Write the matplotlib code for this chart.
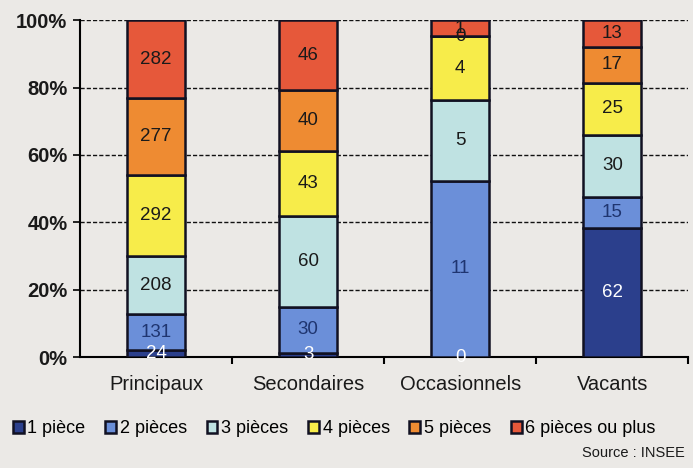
import numpy as np
import matplotlib.pyplot as plt

plt.rcParams['font.family'] = ['Liberation Sans', 'DejaVu Sans']

categories = ['Principaux', 'Secondaires', 'Occasionnels', 'Vacants']
series = ['1 pièce', '2 pièces', '3 pièces', '4 pièces', '5 pièces', '6 pièces ou plus']
p1 = [24, 3, 0, 62]
p2 = [131, 30, 11, 15]
p3 = [208, 60, 5, 30]
p4 = [292, 43, 4, 25]
p5 = [277, 40, 0, 17]
p6 = [282, 46, 1, 13]

colors = ['#2b3f8c', '#6b8fd9', '#bfe2e2', '#f7ec4a', '#ee8b32', '#e6583a']
label_colors = ['white', '#1f3570', '#1a1a1a', '#1a1a1a', '#1a1a1a', '#1a1a1a']

data = np.array([p1, p2, p3, p4, p5, p6], dtype=float)
totals = data.sum(axis=0)
pct = data / totals * 100

bg = '#ebe9e6'
fig = plt.figure(figsize=(6.93, 4.68), dpi=100, facecolor=bg)
ax = fig.add_axes([0.1154, 0.237, 0.878, 0.72], facecolor=bg)

x = np.arange(len(categories))
bottom = np.zeros(len(categories))
for i in range(len(series)):
    ax.bar(x, pct[i], 0.38, bottom=bottom, color=colors[i], edgecolor='#111122',
           linewidth=1.8, label=series[i], zorder=3)
    for j in range(len(categories)):
        ax.text(x[j], bottom[j] + pct[i][j] / 2, '%d' % data[i][j], ha='center', va='center',
                fontsize=13.5, color=label_colors[i], zorder=4)
    bottom += pct[i]

ax.set_xlim(-0.5, 3.5)
ax.set_ylim(0, 100)
ax.set_yticks([0, 20, 40, 60, 80, 100])
ax.set_yticklabels(['0%', '20%', '40%', '60%', '80%', '100%'], fontsize=14.5, fontweight='bold', color='#1a1a1a')
ax.set_xticks(x)
ax.set_xticklabels(categories, fontsize=14.5, color='#1a1a1a')
ax.set_xticks([0.5, 1.5, 2.5, 3.5], minor=True)
ax.tick_params(axis='x', which='major', length=0, pad=13)
ax.tick_params(axis='x', which='minor', length=5, width=1.5, direction='out')
ax.tick_params(axis='y', length=5, width=1.2, pad=4)
ax.yaxis.grid(True, linestyle=(0, (3, 1.5)), color='#111111', linewidth=1, zorder=1)
ax.spines['top'].set_visible(False)
ax.spines['right'].set_visible(False)
ax.spines['left'].set_linewidth(1.5)
ax.spines['bottom'].set_linewidth(1.5)
ax.set_axisbelow(True)

fig.legend(loc='lower left', bbox_to_anchor=(0.008, 0.05), ncol=6, frameon=False, fontsize=13,
           handlelength=0.6, handleheight=0.6, handletextpad=0.2, columnspacing=1.1, borderaxespad=0)
fig.text(0.988, 0.018, 'Source : INSEE', ha='right', va='bottom', fontsize=10.5, color='#1a1a1a')

fig.savefig('out.png', dpi=100, facecolor=bg)
